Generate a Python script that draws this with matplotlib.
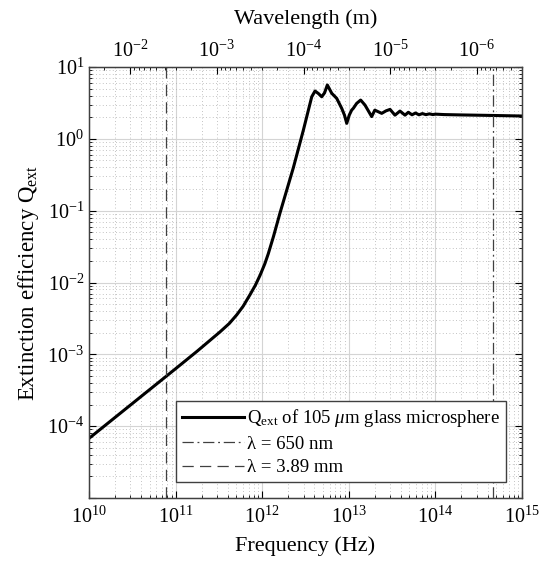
import numpy as np
import matplotlib
matplotlib.use("Agg")
import matplotlib.pyplot as plt
from matplotlib.ticker import LogLocator, NullFormatter, FixedLocator

plt.rcParams["font.family"] = ["Liberation Serif", "DejaVu Serif"]
plt.rcParams["mathtext.fontset"] = "custom"
plt.rcParams["mathtext.rm"] = "Liberation Serif"
plt.rcParams["mathtext.it"] = "Liberation Serif:italic"
plt.rcParams["axes.unicode_minus"] = False
plt.rcParams["xtick.direction"] = "in"
plt.rcParams["ytick.direction"] = "in"

C = 3e8

# curve, in log10 units
log_freq = [10.0, 10.5, 11.0, 11.25, 11.513, 11.62, 11.706, 11.78, 11.859,
            11.92, 11.975, 12.03, 12.07, 12.13, 12.206, 12.36, 12.475, 12.572,
            12.61, 12.65, 12.687, 12.72, 12.752, 12.803, 12.86, 12.918, 12.95,
            12.976, 13.005, 13.033, 13.052, 13.091, 13.137, 13.187, 13.264,
            13.30, 13.38, 13.43, 13.476, 13.533, 13.591, 13.649, 13.687,
            13.73, 13.77, 13.81, 13.85, 13.89, 13.93, 13.97, 14.0, 14.1,
            14.3, 14.6, 15.0]
log_qext = [-4.17, -3.685, -3.20, -2.955, -2.687, -2.57, -2.45, -2.33, -2.17,
            -2.04, -1.90, -1.74, -1.60, -1.36, -1.03, -0.40, 0.12, 0.586,
            0.666, 0.63, 0.586, 0.64, 0.75, 0.634, 0.564, 0.425, 0.33,
            0.216, 0.33, 0.40, 0.425, 0.494, 0.54, 0.47, 0.31,
            0.40, 0.355, 0.39, 0.41, 0.33, 0.387, 0.33, 0.37,
            0.335, 0.36, 0.335, 0.352, 0.337, 0.348, 0.338, 0.344, 0.338,
            0.333, 0.327, 0.318]

lambda_red = 650e-9
lambda_thz = 3.89e-3

freq = 10 ** np.array(log_freq)
qext = 10 ** np.array(log_qext)

fig = plt.figure(figsize=(5.4, 5.68), dpi=100)
ax = fig.add_axes([0.1648, 0.1232, 0.8019, 0.7588])

ax.plot(freq, qext, color="black", lw=2.2,
        label=r"Q$_{\mathrm{ext}}$ of 105 $\mathit{\mu}$m glass microsphere")
ax.axvline(C / lambda_red, color="#404040", lw=0.9, ls=(0, (9, 3, 1.5, 3)),
           label="λ = 650 nm")
ax.axvline(C / lambda_thz, color="#404040", lw=0.9, ls=(0, (9, 5)),
           label="λ = 3.89 mm")

ax.set_xscale("log")
ax.set_yscale("log")
ax.set_xlim(1e10, 1e15)
ax.set_ylim(1e-5, 1e1)

ax.yaxis.set_major_locator(FixedLocator([1e-5, 1e-4, 1e-3, 1e-2, 1e-1, 1e0, 1e1]))
ax.set_yticklabels(["", r"$10^{-4}$", r"$10^{-3}$", r"$10^{-2}$", r"$10^{-1}$",
                    r"$10^{0}$", r"$10^{1}$"])
ax.xaxis.set_minor_locator(LogLocator(base=10, subs=np.arange(2, 10), numticks=20))
ax.yaxis.set_minor_locator(LogLocator(base=10, subs=np.arange(2, 10), numticks=20))
ax.xaxis.set_minor_formatter(NullFormatter())
ax.yaxis.set_minor_formatter(NullFormatter())
ax.tick_params(which="both", labelsize=14.5, right=True)
ax.tick_params(which="major", length=5)
ax.tick_params(which="minor", length=2.5)
ax.tick_params(axis="x", pad=6)

ax.grid(True, which="major", color="#d4d4d4", lw=0.8)
ax.grid(True, which="minor", color="#b0b0b0", lw=0.6, ls=(0, (1, 3)))
ax.set_axisbelow(True)
for sp in ax.spines.values():
    sp.set_color("#404040")
    sp.set_linewidth(1.0)

ax.set_xlabel("Frequency (Hz)", fontsize=16, labelpad=6)
ax.set_ylabel(r"Extinction efficiency Q$_{\mathrm{ext}}$", fontsize=16.5, labelpad=4)

top = ax.twiny()
top.set_xscale("log")
top.set_xlim(C / 1e10, C / 1e15)
top.xaxis.set_major_locator(FixedLocator([1e-2, 1e-3, 1e-4, 1e-5, 1e-6]))
top.set_xticklabels([r"$10^{-2}$", r"$10^{-3}$", r"$10^{-4}$", r"$10^{-5}$", r"$10^{-6}$"])
top.xaxis.set_minor_locator(LogLocator(base=10, subs=np.arange(2, 10), numticks=20))
top.xaxis.set_minor_formatter(NullFormatter())
top.tick_params(which="both", labelsize=14.5, direction="in")
top.tick_params(which="major", length=5)
top.tick_params(which="minor", length=2.5)
top.set_xlabel("Wavelength (m)", fontsize=16, labelpad=12)
for sp in top.spines.values():
    sp.set_color("#404040")

leg = ax.legend(loc="lower right", fontsize=13.5, frameon=True, fancybox=False,
                edgecolor="#404040", framealpha=1, handlelength=3.3,
                handletextpad=0.2, borderaxespad=0.85, labelspacing=0.35,
                borderpad=0.3)
leg.get_frame().set_linewidth(1.0)

fig.savefig("out.png", dpi=100)
